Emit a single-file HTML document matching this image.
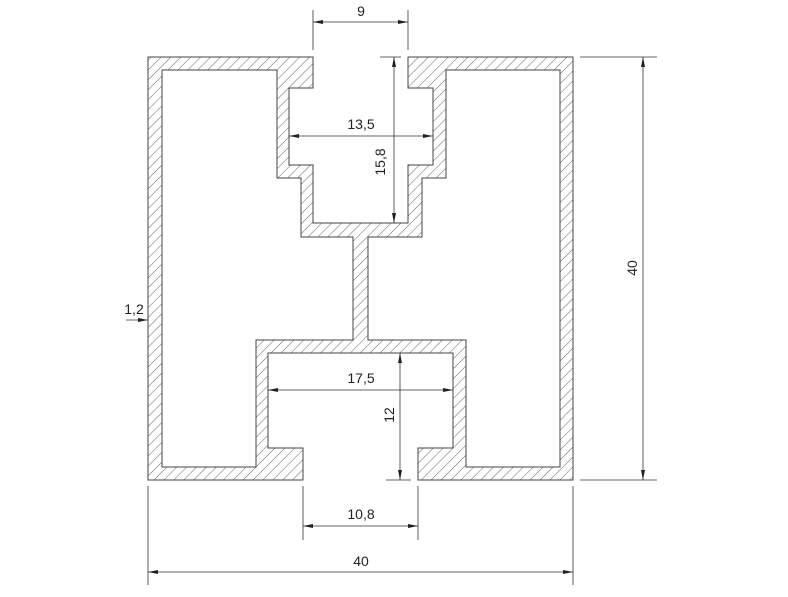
<!DOCTYPE html>
<html><head><meta charset="utf-8"><style>
html,body{margin:0;padding:0;background:#fff;}
svg{display:block;}
text{font-family:"Liberation Sans",sans-serif;font-size:14px;fill:#222;}
</style></head><body>
<svg width="788" height="597" viewBox="0 0 788 597" xmlns="http://www.w3.org/2000/svg">
<defs>
<pattern id="h" patternUnits="userSpaceOnUse" width="7" height="7" patternTransform="rotate(45)">
<rect width="7" height="7" fill="#fff"/>
<line x1="0" y1="0" x2="0" y2="7" stroke="#555" stroke-width="0.9"/>
</pattern>
<marker id="a" viewBox="0 0 10 4" refX="10" refY="2" markerWidth="10" markerHeight="4" orient="auto-start-reverse" markerUnits="userSpaceOnUse">
<path d="M0,0 L10,2 L0,4 Z" fill="#222"/>
</marker>
</defs>
<path fill="url(#h)" fill-rule="evenodd" stroke="#444" stroke-width="1" d="
M148,57 L313,57 L313,88 L289,88 L289,165 L313,165 L313,223 L408,223 L408,165 L433,165 L433,88 L408,88 L408,57 L573,57 L573,480 L418,480 L418,448 L453,448 L453,353 L268,353 L268,448 L303,448 L303,480 L148,480 Z
M162,70 L277,70 L277,178 L301,178 L301,237 L353,237 L353,340 L256,340 L256,467 L162,467 Z
M446,70 L560,70 L560,467 L466,467 L466,340 L368,340 L368,237 L422,237 L422,178 L446,178 Z"/>
<g stroke="#333" stroke-width="0.8" fill="none">
<line x1="313" y1="10" x2="313" y2="50"/><line x1="408" y1="10" x2="408" y2="50"/>
<line x1="313" y1="22" x2="408" y2="22" marker-start="url(#a)" marker-end="url(#a)"/>
<line x1="289" y1="136" x2="433" y2="136" marker-start="url(#a)" marker-end="url(#a)"/>
<line x1="380" y1="57" x2="401" y2="57"/>
<line x1="394" y1="57" x2="394" y2="223" marker-start="url(#a)" marker-end="url(#a)"/>
<line x1="580" y1="57" x2="657" y2="57"/><line x1="580" y1="480" x2="657" y2="480"/>
<line x1="643" y1="57" x2="643" y2="480" marker-start="url(#a)" marker-end="url(#a)"/>
<line x1="126" y1="320" x2="148" y2="320" marker-end="url(#a)"/>
<line x1="268" y1="390" x2="453" y2="390" marker-start="url(#a)" marker-end="url(#a)"/>
<line x1="386" y1="480" x2="411" y2="480"/>
<line x1="400" y1="353" x2="400" y2="480" marker-start="url(#a)" marker-end="url(#a)"/>
<line x1="303" y1="486" x2="303" y2="540"/><line x1="418" y1="486" x2="418" y2="540"/>
<line x1="303" y1="526" x2="418" y2="526" marker-start="url(#a)" marker-end="url(#a)"/>
<line x1="148" y1="486" x2="148" y2="585"/><line x1="573" y1="486" x2="573" y2="585"/>
<line x1="148" y1="572" x2="573" y2="572" marker-start="url(#a)" marker-end="url(#a)"/>
</g>
<text x="361" y="16" text-anchor="middle">9</text>
<text x="361" y="129" text-anchor="middle">13,5</text>
<text transform="translate(385,162) rotate(-90)" text-anchor="middle">15,8</text>
<text transform="translate(637,268) rotate(-90)" text-anchor="middle">40</text>
<text x="134" y="314" text-anchor="middle">1,2</text>
<text x="361" y="383" text-anchor="middle">17,5</text>
<text transform="translate(394,415) rotate(-90)" text-anchor="middle">12</text>
<text x="361" y="519" text-anchor="middle">10,8</text>
<text x="361" y="566" text-anchor="middle">40</text>
</svg>
</body></html>
